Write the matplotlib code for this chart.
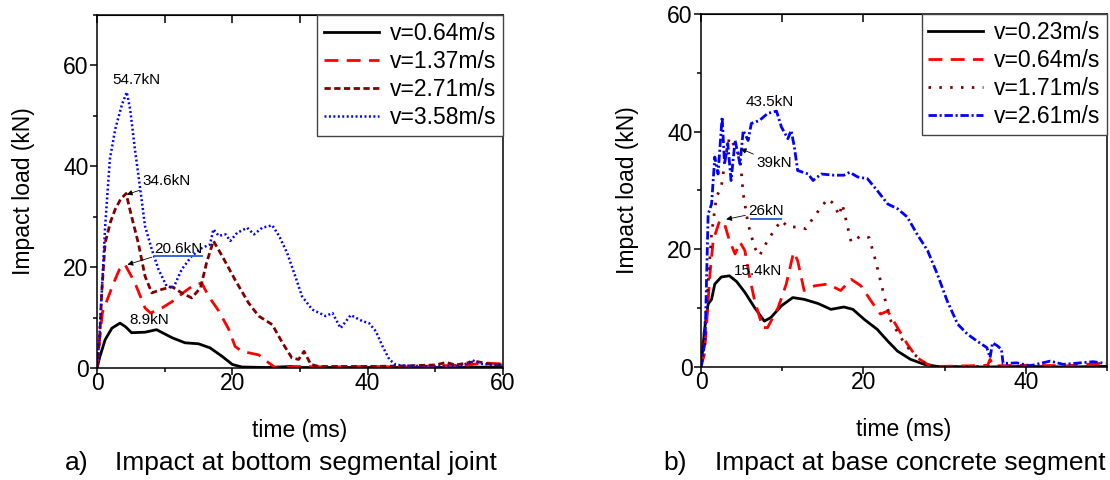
import matplotlib
matplotlib.use("Agg")
import matplotlib.pyplot as plt
from matplotlib.ticker import MultipleLocator

plt.rcParams['font.family'] = ['Liberation Sans', 'DejaVu Sans']
plt.rcParams['lines.scale_dashes'] = False

# ---------------- Panel a) data ----------------
a_labels = ["v=0.64m/s", "v=1.37m/s", "v=2.71m/s", "v=3.58m/s"]

a1_t = [0, 0.44, 1.2, 2.2, 3.4, 4.2, 5.1, 7.1, 8.8, 11.1, 13.0, 15.0, 16.7, 18.5, 20.0, 21.4, 25, 28.8, 30, 40, 50, 60]
a1_v = [0, 2.3, 5.6, 7.9, 8.9, 8.2, 7.0, 7.1, 7.6, 6.0, 5.0, 4.8, 4.0, 2.3, 0.7, 0.2, 0.1, 0.3, 0.1, 0.1, 0.1, 0.2]

a2_t = [0, 0.4, 0.8, 1.5, 2.5, 3.3, 4.1, 5.6, 7.1, 7.9, 9.6, 11.6, 13.0, 14.5, 15.5, 16.5, 18.0, 19.5, 20.4, 21.4, 23.9, 25.4, 26.4,
        30, 35, 40, 45, 50, 55, 57, 60]
a2_v = [0, 6.0, 11.0, 13.5, 17.0, 19.5, 20.6, 16.9, 11.9, 10.9, 11.9, 13.6, 15.2, 16.6, 16.8, 14.2, 11.3, 7.6, 4.3, 3.3, 2.6, 1.0, 0.0,
        0.3, 0.2, 0.3, 0.2, 0.4, 0.6, 1.0, 0.8]

a3_t = [0, 0.4, 0.7, 1.2, 2.0, 2.7, 3.5, 4.3, 5.1, 6.1, 7.1, 8.1, 9.6, 11.1, 12.5, 14.0, 15.3, 16.2, 17.2, 18.5, 20.4, 22.4, 23.9,
        25.9, 27.4, 28.8, 29.8, 30.6, 31.6, 32.8, 40, 45, 50, 51.6, 53, 56, 58, 60]
a3_v = [0, 6.0, 15.0, 24.8, 29.0, 31.5, 33.5, 34.6, 30.1, 24.8, 18.2, 14.9, 15.6, 16.1, 14.9, 13.9, 15.9, 20.9, 25.2, 22.2, 17.5, 12.9, 10.3,
        8.6, 5.0, 2.0, 1.7, 3.3, 0.7, 0.3, 0.3, 0.4, 0.6, 1.1, 0.6, 1.3, 0.8, 0.6]

a4_t = [0, 0.3, 0.7, 1.2, 1.9, 2.7, 3.7, 4.4, 4.9, 5.6, 6.4, 7.1, 8.1, 9.1, 10.3, 11.3, 12.5, 14.0, 15.5, 16.7, 17.2, 18.0, 19.0,
        19.7, 20.7, 22.2, 23.2, 24.4, 25.9, 26.9, 28.1, 29.3, 30.3, 31.8, 33.8, 34.8, 36.0, 37.5, 39.2, 40.2, 41.2, 42.2, 43.2,
        44.1, 45.1, 50, 54, 55.5, 57, 60]
a4_v = [0, 5.0, 14.9, 28.0, 41.4, 47.4, 52.3, 54.7, 51.3, 43.4, 35.4, 28.1, 23.5, 19.5, 16.2, 15.9, 19.5, 22.2, 23.8, 24.5, 27.5, 26.2, 26.5,
        25.2, 26.8, 27.8, 26.5, 27.8, 28.3, 26.2, 22.8, 18.2, 14.2, 11.6, 10.3, 10.9, 7.9, 10.5, 9.3, 8.9, 7.3, 4.3, 1.7,
        0.7, 0.5, 0.3, 0.5, 1.5, 0.8, 0.5]

# ---------------- Panel b) data ----------------
b_labels = ["v=0.23m/s", "v=0.64m/s", "v=1.71m/s", "v=2.61m/s"]

b1_t = [0, 0.47, 0.88, 1.3, 1.7, 2.5, 3.5, 4.4, 5.4, 6.6, 7.8, 8.6, 9.9, 11.3, 12.7, 14.4, 16.0, 17.6, 18.7, 20.1, 21.7, 23.0,
        24.2, 25.8, 27.5, 29.1, 35, 40, 45, 50]
b1_v = [0, 6.7, 10.7, 11.5, 14.1, 15.3, 15.5, 14.5, 12.7, 10.1, 7.8, 8.4, 10.4, 11.8, 11.5, 10.8, 9.8, 10.2, 9.8, 8.1, 6.4, 4.4,
        2.7, 1.3, 0.45, 0.1, 0.0, 0.1, 0.0, 0.1]

b2_t = [0, 0.4, 0.67, 1.1, 1.5, 2.3, 2.9, 3.5, 4.2, 4.8, 5.4, 6.0, 6.6, 7.6, 8.2, 9.5, 10.5, 11.4, 11.9, 12.7, 14.0, 15.6, 17.2,
        18.5, 19.7, 20.9, 22.1, 23.0, 24.2, 25.4, 26.6, 27.9, 29.1, 33, 35.3, 35.6, 36, 40, 45, 48, 50]
b2_v = [0, 2.1, 6.7, 15.8, 21.5, 24.9, 24.3, 21.5, 19.2, 21.2, 19.8, 15.2, 11.3, 6.7, 6.7, 10.1, 14.1, 19.5, 18.1, 13.0, 13.8, 14.1, 13.0,
        14.9, 13.8, 11.3, 9.0, 9.5, 6.7, 3.9, 1.6, 0.45, 0.1, 0.2, 0.3, 1.3, 0.2, 0.3, 0.2, 0.5, 0.7]

b3_t = [0, 0.67, 1.3, 1.9, 2.5, 3.0, 3.5, 4.2, 4.8, 5.2, 5.8, 6.6, 7.2, 8.2, 9.3, 9.9, 10.7, 11.9, 12.9, 14.0, 15.6, 16.4, 17.0,
        17.4, 18.5, 19.7, 20.7, 21.5, 22.6, 23.4, 24.6, 25.8, 27.5, 28.7, 35, 40, 45, 50]
b3_v = [0, 10.1, 22.6, 28.9, 30.6, 35.5, 39.0, 37.4, 35.7, 29.4, 24.3, 20.3, 18.9, 21.5, 23.8, 24.9, 23.8, 23.8, 23.5, 25.7, 28.6, 27.7, 25.7,
        27.7, 21.2, 22.3, 22.0, 18.1, 11.8, 7.8, 5.0, 2.7, 0.7, 0.0, 0.1, 0.1, 0.0, 0.1]

b4_t = [0, 0.5, 0.88, 1.3, 1.7, 2.1, 2.6, 2.9, 3.3, 3.7, 4.2, 4.8, 5.2, 5.8, 6.2, 7.2, 8.2, 9.3, 9.9, 10.7, 11.1, 11.5, 11.9,
        13.2, 13.8, 14.8, 16.4, 17.6, 18.3, 19.3, 20.5, 21.7, 23.0, 24.2, 25.4, 26.6, 27.9, 29.1, 30.3, 31.6, 32.8, 34.0, 35.2,
        35.6, 35.9, 36.5, 37.0, 37.2, 38.9, 40.5, 43.0, 44.6, 46.7, 48.3, 49.8]
b4_v = [0, 4.4, 26.0, 27.7, 35.7, 32.8, 42.5, 34.5, 38.0, 31.7, 38.5, 34.5, 40.2, 38.5, 41.4, 41.9, 43.1, 43.5, 40.8, 38.8, 40.2, 37.4, 33.4,
        32.8, 31.7, 32.8, 32.6, 32.6, 33.1, 32.3, 32.0, 30.0, 27.7, 26.9, 25.5, 22.6, 19.8, 15.8, 11.3, 7.3, 5.6, 4.4, 3.3,
        1.6, 4.1, 3.6, 3.0, 0.6, 0.7, 0.2, 1.0, 0.45, 0.7, 0.9, 0.6]

FS = 16.5
BLUE = '#0000FF'
RED = '#FF0000'
MAROON = '#800000'

fig = plt.figure(figsize=(11.1, 4.8), dpi=100)
ax1 = fig.add_axes([97/1110, 112/480, 406/1110, 353/480])
ax2 = fig.add_axes([701/1110, 113/480, 406/1110, 353/480])


def style_axes(ax, xmax, ymax):
    ax.set_xlim(0, xmax)
    ax.set_ylim(0, ymax)
    ax.xaxis.set_major_locator(MultipleLocator(20))
    ax.xaxis.set_minor_locator(MultipleLocator(10))
    ax.yaxis.set_major_locator(MultipleLocator(20))
    ax.yaxis.set_minor_locator(MultipleLocator(10))
    ax.tick_params(which='major', direction='out', length=5, width=1.1, labelsize=FS)
    ax.tick_params(which='minor', direction='out', length=3, width=1.1)
    ax.tick_params(axis='x', which='major', pad=-2)
    ax.tick_params(axis='y', which='major', pad=1)
    for s in ax.spines.values():
        s.set_linewidth(1.1)
    sx = ax.secondary_xaxis('top')
    sx.xaxis.set_major_locator(MultipleLocator(10))
    sx.tick_params(direction='in', length=6, width=1.1, labeltop=False)
    ax.set_xlabel('time (ms)', fontsize=FS)
    ax.set_ylabel('Impact load (kN)', fontsize=FS)
    ax.xaxis.set_label_coords(0.5, -0.145)
    ax.yaxis.set_label_coords(-0.153, 0.5)


style_axes(ax1, 60, 70)
style_axes(ax2, 50, 60)

# Panel a curves
ax1.plot(a1_t, a1_v, color='black', lw=2.0, label=a_labels[0])
ax1.plot(a2_t, a2_v, color=RED, lw=2.0, dashes=(10, 6), label=a_labels[1])
ax1.plot(a3_t, a3_v, color=MAROON, lw=2.0, dashes=(4.5, 2.5), label=a_labels[2])
ax1.plot(a4_t, a4_v, color=BLUE, lw=1.8, dashes=(1.4, 1.8), label=a_labels[3])

# Panel b curves
ax2.plot(b1_t, b1_v, color='black', lw=2.0, label=b_labels[0])
ax2.plot(b2_t, b2_v, color=RED, lw=2.0, dashes=(10, 6), label=b_labels[1])
ax2.plot(b3_t, b3_v, color=MAROON, lw=2.0, dashes=(1.8, 6), label=b_labels[2])
ax2.plot(b4_t, b4_v, color=BLUE, lw=2.0, dashes=(6, 2, 1.5, 2), label=b_labels[3])

for ax in (ax1, ax2):
    leg = ax.legend(loc='upper right', fontsize=FS, frameon=True, fancybox=False, borderaxespad=0,
                    handlelength=2.4, handletextpad=0.45, labelspacing=0.22, borderpad=0.3)
    leg.get_frame().set_edgecolor('#444444')
    leg.get_frame().set_linewidth(1.0)
    leg.get_frame().set_alpha(1)

arrow = dict(arrowstyle='-|>', color='black', lw=0.6, mutation_scale=8, shrinkA=0, shrinkB=0)
AFS = 11

# Panel a annotations
ax1.text(5.8, 57.1, '54.7kN', fontsize=AFS, ha='center', va='center')
ax1.annotate('34.6kN', xy=(4.4, 34.4), xytext=(6.7, 37.0), fontsize=AFS, va='center', ha='left', arrowprops=arrow)
ax1.annotate('20.6kN', xy=(4.5, 20.5), xytext=(8.5, 23.6), fontsize=AFS, va='center', ha='left', arrowprops=arrow)
ax1.plot([8.5, 15.5], [22.2, 22.2], color='#3366DD', lw=1.4)
ax1.text(7.7, 9.5, '8.9kN', fontsize=AFS, ha='center', va='center')

# Panel b annotations
ax2.text(8.5, 45.0, '43.5kN', fontsize=AFS, ha='center', va='center')
ax2.annotate('39kN', xy=(4.9, 37.1), xytext=(6.8, 34.7), fontsize=AFS, va='center', ha='left', arrowprops=arrow)
ax2.annotate('26kN', xy=(3.1, 25.1), xytext=(5.8, 26.5), fontsize=AFS, va='center', ha='left', arrowprops=arrow)
ax2.plot([6.2, 9.9], [25.1, 25.1], color='#3366DD', lw=1.4)
ax2.text(7.0, 16.4, '15.4kN', fontsize=AFS, ha='center', va='center')

# Captions
CFS = 19
fig.text(65/1110, 1 - 463/480, 'a)', fontsize=CFS, ha='left', va='center')
fig.text(115/1110, 1 - 463/480, 'Impact at bottom segmental joint', fontsize=CFS, ha='left', va='center')
fig.text(663/1110, 1 - 463/480, 'b)', fontsize=CFS, ha='left', va='center')
fig.text(715/1110, 1 - 463/480, 'Impact at base concrete segment', fontsize=CFS, ha='left', va='center')

fig.savefig('out.png', dpi=100)
